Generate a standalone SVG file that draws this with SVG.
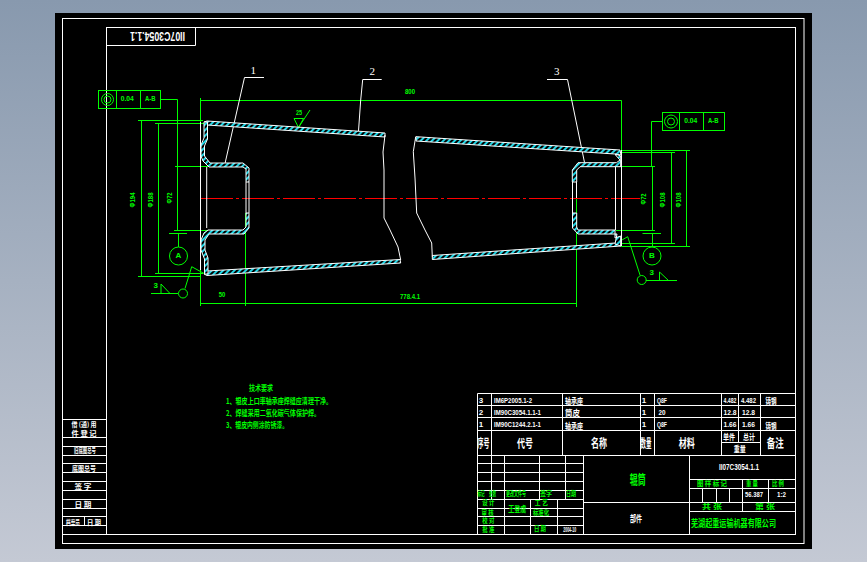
<svg xmlns="http://www.w3.org/2000/svg" width="867" height="562" viewBox="0 0 867 562">
<defs>
<linearGradient id="bg" x1="0" y1="0" x2="0" y2="1"><stop offset="0" stop-color="#8899ae"/><stop offset="1" stop-color="#c4c9d4"/></linearGradient>
<pattern id="hatch" width="4" height="4" patternUnits="userSpaceOnUse" patternTransform="rotate(45)"><rect width="4" height="4" fill="#000"/><rect width="2" height="4" fill="#1fd8e8"/></pattern>
</defs>
<style>
.w{fill:none;stroke:#fff;stroke-width:1}
.b{fill:url(#hatch);stroke:#fff;stroke-width:1}
.g{fill:none;stroke:#0f0;stroke-width:1}
.r{stroke:#f00;stroke-width:1.2;stroke-dasharray:32 3 3 3;fill:none}
text{font-family:"Noto Sans CJK SC","Liberation Sans",sans-serif;font-weight:700;dominant-baseline:central;text-anchor:middle;font-size:8px;fill:#fff}
.tg{fill:#0f0}
.m{font-family:"Liberation Sans",sans-serif}
.s{font-family:"Liberation Serif",serif;font-weight:400;font-size:11px}
.f7{font-size:7px}
.f6{font-size:6.5px}
.f11{font-size:12px}
</style>
<rect width="867" height="562" fill="url(#bg)"/>
<rect x="55" y="13" width="757" height="536" fill="#000"/>
<g id="frame">
<rect class="w" x="62.500" y="18.500" width="741.500" height="525"/>
<rect class="w" x="106.500" y="27.500" width="689" height="507"/>
<path class="w" d="M62.500 534.500H106.500M106.500 45.500H195.500V27.500"/>
<path class="w" d="M62.500 419.500H106.500M62.500 437.500H106.500M62.500 446.500H106.500M62.500 455.500H106.500M62.500 463.500H106.500M62.500 472.500H106.500M62.500 481.500H106.500M62.500 490.500H106.500M62.500 499.500H106.500M62.500 508.500H106.500M62.500 516.500H106.500M62.500 525.500H106.500M84.500 516.500V525.500"/>
<text class="m" x="157.500" y="36" transform="rotate(180 157.500 36)" style="font-size:13px" textLength="55" lengthAdjust="spacingAndGlyphs">II07C3054.1.1</text>
</g>
<g id="left-labels">
<text class="f6" x="84" y="424" textLength="25" lengthAdjust="spacingAndGlyphs">借 (通) 用</text>
<text class="f6" x="84" y="433" textLength="25" lengthAdjust="spacingAndGlyphs">件 登 记</text>
<text class="f6" x="85" y="450" textLength="22" lengthAdjust="spacingAndGlyphs">旧底图总号</text>
<text class="f6" x="84" y="468" textLength="24" lengthAdjust="spacingAndGlyphs">底图总号</text>
<text class="f6" x="83" y="486" textLength="17" lengthAdjust="spacingAndGlyphs">签 字</text>
<text class="f6" x="83" y="504" textLength="17" lengthAdjust="spacingAndGlyphs">日 期</text>
<text class="f6" x="73" y="522" textLength="14" lengthAdjust="spacingAndGlyphs">档案员</text>
<text class="f6" x="94" y="522" textLength="14" lengthAdjust="spacingAndGlyphs">日 期</text>
</g>
<g id="connectors">
<path class="g" d="M200.500 98V306M200.500 100.500H621.500V150M200.500 303.500H576.500M245.500 213V306M576.500 198V307"/>
<path class="g" d="M138 120.500H203M155 123.500H205M138 276.500H201M155 273.500H203M141.500 120.500V276.500M158.500 123.500V273.500M175 166.500H208M174 230.500H208M169 233.500H187M178.500 233.500V247"/>
<path class="g" d="M161 99.500H177.500V230"/>
<circle class="g" cx="178.500" cy="256" r="9"/>
<path class="g" d="M151 293.500H178M161 284L170 293.500M161 284V293.500"/>
<circle class="g" cx="183" cy="293.500" r="4.500"/>
<path class="g" d="M185 288.500L191.700 266.700L205 274"/>
<path class="g" d="M294 118.500H303.500L298.500 127.500L294 118.500M298.500 127.500L310 110"/>
<path class="g" d="M621 150.500H690M621 152.500H675M616 166.500H655M616 230.500H655M616 243.500H675M621 246.500H690M652.500 166.500V230.500M671.500 152.500V243.500M686.500 150.500V246.500"/>
<path class="g" d="M663 121.500H651.500V166M642.500 233.500H661M652.500 233.500V247"/>
<circle class="g" cx="652" cy="256" r="9"/>
<path class="g" d="M646 280.500H677M659.500 272L668.500 280.500M659.500 272V280.500"/>
<circle class="g" cx="641.700" cy="280" r="4.500"/>
<path class="g" d="M640 275L627.700 236.700L616.700 243"/>
<path class="r" d="M201 198.500H640"/>
<path class="w" d="M225 163.500L244.500 77.500H264M358.500 131L360.700 100L362.700 79.500H381.700M584.500 162.500L567.500 79.500H547"/>
</g>
<g id="part-left">
<path class="w" d="M200.500 122V270M206.700 167V228"/>
<path class="b" d="M204 122L207 121L385 133L385 137L207 125"/>
<path class="b" d="M207 271L400 259.500L400.700 263L207 275.500L204 274Z"/>
<path class="b" d="M204 122H207.500V139L204.500 146V156L210 163H243L249 168V182H246V169L243 167H209L203 161L201 156V145L204 138Z"/>
<path class="b" d="M208 230H243L246 227V213H249V228L244 234H209L205 240V250L208 258V274H204.500V259L201 250V240L204 233Z"/>
<path class="w" d="M246 182V213M249 182V213M385 135L383 152L384 170L384 218L390 230L398 247L400.700 260"/>
</g>
<g id="part-right">
<path class="b" d="M416 136.700L620 150L621 155L615 154L416 141Z"/>
<path class="b" d="M432.300 255.500L620 242.700L621 246L432.300 259.500Z"/>
<path class="b" d="M615.500 154L620.700 156V166.700H580L576.700 170V182H572.300V170L578 162.700H616.500L620 160L615.500 155Z"/>
<path class="b" d="M578 230H615V238L620.700 236V246L615 244L617 234H578L572.500 228V213H576.700V227Z"/>
<path class="w" d="M621.500 150V246M615.500 167V230M572.500 182V213M576.500 182V198M415.700 136.700L413.300 151.700L415 178L416.700 213L425 230L431.700 243L432.300 256.700"/>
</g>
<g id="dim-labels">
<text class="s" x="253.300" y="69.500">1</text>
<text class="s" x="372.300" y="71">2</text>
<text class="s" x="556.700" y="71">3</text>
<text class="tg m" x="410" y="91" textLength="10" lengthAdjust="spacingAndGlyphs">800</text>
<text class="tg m" x="299" y="112" textLength="6" lengthAdjust="spacingAndGlyphs">25</text>
<text class="tg m" x="222" y="294.500" textLength="6.500" lengthAdjust="spacingAndGlyphs">50</text>
<text class="tg m" x="410" y="296" textLength="20" lengthAdjust="spacingAndGlyphs">778.4.1</text>
<text class="tg m" x="132.700" y="200" transform="rotate(-90 132.700 200)" textLength="15" lengthAdjust="spacingAndGlyphs">Φ194</text>
<text class="tg m" x="150" y="200" transform="rotate(-90 150 200)" textLength="15" lengthAdjust="spacingAndGlyphs">Φ188</text>
<text class="tg m" x="169" y="198" transform="rotate(-90 169 198)" textLength="11" lengthAdjust="spacingAndGlyphs">Φ72</text>
<text class="tg m" x="643.300" y="199" transform="rotate(-90 643.300 199)" textLength="11" lengthAdjust="spacingAndGlyphs">Φ72</text>
<text class="tg m" x="662" y="200" transform="rotate(-90 662 200)" textLength="15" lengthAdjust="spacingAndGlyphs">Φ108</text>
<text class="tg m" x="678" y="200" transform="rotate(-90 678 200)" textLength="15" lengthAdjust="spacingAndGlyphs">Φ108</text>
<text class="tg m" x="178.500" y="255.500">A</text>
<text class="tg m" x="652" y="255.500">B</text>
<text class="tg m" x="155.700" y="285.500">3</text>
<text class="tg m" x="651.700" y="272.500">3</text>
</g>
<g id="tolerance-a">
<rect class="g" x="98.500" y="90.500" width="62" height="18"/>
<path class="g" d="M116.500 90.500V108.500M140.500 90.500V108.500"/>
<circle class="g" cx="107.500" cy="99.500" r="6"/><circle class="g" cx="107.500" cy="99.500" r="3.500"/>
<text class="tg m" x="127.300" y="98.500" textLength="13" lengthAdjust="spacingAndGlyphs">0.04</text><text class="tg m" x="150.300" y="98.500" textLength="10.500" lengthAdjust="spacingAndGlyphs">A-B</text>
</g>
<g id="tolerance-b">
<rect class="g" x="662.500" y="112.500" width="62" height="18"/>
<path class="g" d="M679.500 112.500V130.500M703.500 112.500V130.500"/>
<circle class="g" cx="671" cy="121.500" r="6.500"/><circle class="g" cx="671" cy="121.500" r="3.500"/>
<text class="tg m" x="690.700" y="120.500" textLength="13" lengthAdjust="spacingAndGlyphs">0.04</text><text class="tg m" x="713.300" y="120.500" textLength="10.500" lengthAdjust="spacingAndGlyphs">A-B</text>
</g>
<g id="notes">
<text class="tg" x="261" y="387" textLength="24" lengthAdjust="spacingAndGlyphs">技术要求</text>
<text class="tg" x="279" y="400" textLength="106" lengthAdjust="spacingAndGlyphs">1、辊皮上口率轴承座焊缝应清理干净。</text>
<text class="tg" x="273" y="412" textLength="94" lengthAdjust="spacingAndGlyphs">2、焊缝采用二氧化碳气体保护焊。</text>
<text class="tg" x="257" y="424" textLength="62" lengthAdjust="spacingAndGlyphs">3、辊皮内侧涂防锈漆。</text>
</g>
<g id="title-block">
<path class="w" d="M477.500 393.500H795.500M477.500 405.500H795.500M477.500 417.500H795.500M477.500 430.500H795.500M477.500 455.500H795.500M477.500 393.500V534.500M491.500 393.500V499.500M562.500 393.500V455.500M640.500 393.500V455.500M654.500 393.500V455.500M721.500 393.500V455.500M738.500 393.500V442.500M760.500 393.500V455.500M721.500 442.500H760.500"/>
<path class="w" d="M477.500 463.500H583.500M477.500 472.500H583.500M477.500 481.500H583.500M477.500 490.500H583.500M477.500 499.500H583.500M477.500 508.500H583.500M477.500 516.500H583.500M477.500 525.500H583.500M504.500 455.500V534.500M539.500 455.500V499.500M565.500 455.500V499.500M583.500 455.500V534.500M530.500 499.500V534.500M557.500 499.500V534.500M583.500 502.500H689.500M689.500 455.500V534.500M689.500 479.500H795.500M689.500 488.500H795.500M689.500 502.500H795.500M689.500 511.500H795.500M742.500 479.500V488.500M768.500 479.500V502.500M702.500 488.500V502.500M716.500 488.500V502.500M729.500 488.500V502.500M742.500 488.500V502.500M742.500 502.500V511.500"/>
<text class="m" x="481" y="400">3</text><text class="m" x="513" y="400" textLength="38" lengthAdjust="spacingAndGlyphs">IM6P2005.1-2</text><text x="574" y="400.500" textLength="18" lengthAdjust="spacingAndGlyphs">轴承座</text><text class="m" x="644" y="400">1</text><text class="m" x="662" y="400" textLength="10" lengthAdjust="spacingAndGlyphs">Q8F</text><text class="m f7" x="730" y="400" textLength="13" lengthAdjust="spacingAndGlyphs">4.482</text><text class="m f7" x="748.500" y="400" textLength="15" lengthAdjust="spacingAndGlyphs">4.482</text><text x="771" y="400.500" textLength="11" lengthAdjust="spacingAndGlyphs">铸钢</text>
<text class="m" x="481" y="412">2</text><text class="m" x="517.500" y="412" textLength="47" lengthAdjust="spacingAndGlyphs">IM90C3054.1.1-1</text><text x="572.500" y="412.500" textLength="15" lengthAdjust="spacingAndGlyphs">筒皮</text><text class="m" x="644" y="412">1</text><text class="m" x="662" y="412" textLength="7" lengthAdjust="spacingAndGlyphs">20</text><text class="m" x="730" y="412" textLength="13" lengthAdjust="spacingAndGlyphs">12.8</text><text class="m" x="748.500" y="412" textLength="13" lengthAdjust="spacingAndGlyphs">12.8</text>
<text class="m" x="481" y="424">1</text><text class="m" x="517.500" y="424" textLength="47" lengthAdjust="spacingAndGlyphs">IM90C1244.2.1-1</text><text x="574" y="425" textLength="18" lengthAdjust="spacingAndGlyphs">轴承座</text><text class="m" x="644" y="424">1</text><text class="m" x="662" y="424" textLength="10" lengthAdjust="spacingAndGlyphs">Q8F</text><text class="m" x="730" y="424" textLength="13" lengthAdjust="spacingAndGlyphs">1.66</text><text class="m" x="748.500" y="424" textLength="13" lengthAdjust="spacingAndGlyphs">1.66</text><text x="771" y="425" textLength="11" lengthAdjust="spacingAndGlyphs">铸钢</text>
<text class="f11" x="483.500" y="442" textLength="12" lengthAdjust="spacingAndGlyphs">序号</text><text class="f11" x="525" y="442" textLength="16" lengthAdjust="spacingAndGlyphs">代号</text><text class="f11" x="599" y="442" textLength="16" lengthAdjust="spacingAndGlyphs">名称</text><text class="f11" x="646" y="442" textLength="11" lengthAdjust="spacingAndGlyphs">数量</text><text class="f11" x="686.700" y="442" textLength="16" lengthAdjust="spacingAndGlyphs">材料</text><text x="729" y="436" textLength="12" lengthAdjust="spacingAndGlyphs">单件</text><text x="749" y="436" textLength="12" lengthAdjust="spacingAndGlyphs">总计</text><text x="739.700" y="448.700" textLength="12" lengthAdjust="spacingAndGlyphs">重量</text><text class="f11" x="775.300" y="442" textLength="17" lengthAdjust="spacingAndGlyphs">备注</text>
<text class="tg" x="637.700" y="478" style="font-size:13px" textLength="16" lengthAdjust="spacingAndGlyphs">辊筒</text>
<text x="636" y="518" style="font-size:9px" textLength="12" lengthAdjust="spacingAndGlyphs">部件</text>
<text class="m" x="739" y="466.700" style="font-size:9px" textLength="40" lengthAdjust="spacingAndGlyphs">II07C3054.1.1</text>
<text class="tg f6" x="712" y="482.700" textLength="30" lengthAdjust="spacingAndGlyphs">图 样 标 记</text><text class="tg f6" x="752" y="482.700" textLength="12" lengthAdjust="spacingAndGlyphs">重 量</text><text class="tg f6" x="778" y="482.700" textLength="12" lengthAdjust="spacingAndGlyphs">比 例</text>
<text class="m" x="754" y="494.300" textLength="18" lengthAdjust="spacingAndGlyphs">56.387</text><text class="m" x="781.500" y="494.300" textLength="9" lengthAdjust="spacingAndGlyphs">1:2</text>
<text class="tg f6" x="712" y="505.700" textLength="20" lengthAdjust="spacingAndGlyphs">共 张</text><text class="tg f6" x="765" y="505.700" textLength="20" lengthAdjust="spacingAndGlyphs">第 张</text>
<text class="tg" x="733.500" y="522" style="font-size:10px" textLength="85" lengthAdjust="spacingAndGlyphs">芜湖起重运输机器有限公司</text>
<text class="tg f6" x="481" y="493.300" textLength="7" lengthAdjust="spacingAndGlyphs">标记</text><text class="tg f6" x="492.500" y="493.300" textLength="7" lengthAdjust="spacingAndGlyphs">处数</text><text class="tg f6" x="516" y="493.300" textLength="20" lengthAdjust="spacingAndGlyphs">更改文件号</text><text class="tg f6" x="546" y="493.300" textLength="12" lengthAdjust="spacingAndGlyphs">签字</text><text class="tg f6" x="571" y="493.300" textLength="10" lengthAdjust="spacingAndGlyphs">日期</text>
<text class="tg f6" x="488.300" y="502.300" textLength="12" lengthAdjust="spacingAndGlyphs">设 计</text><text class="tg" x="517.300" y="508.300" style="font-size:8px" textLength="18" lengthAdjust="spacingAndGlyphs">王登虞</text><text class="tg f6" x="541.300" y="502" textLength="13" lengthAdjust="spacingAndGlyphs">工 艺</text>
<text class="tg f6" x="487.600" y="511.700" textLength="12" lengthAdjust="spacingAndGlyphs">审 核</text><text class="tg f6" x="541" y="511.700" textLength="16" lengthAdjust="spacingAndGlyphs">标准化</text>
<text class="tg f6" x="488.300" y="520" textLength="12" lengthAdjust="spacingAndGlyphs">校 对</text>
<text class="tg f6" x="488.300" y="529" textLength="12" lengthAdjust="spacingAndGlyphs">批 准</text><text class="tg f6" x="540" y="527.700" textLength="12" lengthAdjust="spacingAndGlyphs">日 期</text>
<text class="m f6" x="569.700" y="529" textLength="13" lengthAdjust="spacingAndGlyphs">2004-10</text>
</g>
</svg>
